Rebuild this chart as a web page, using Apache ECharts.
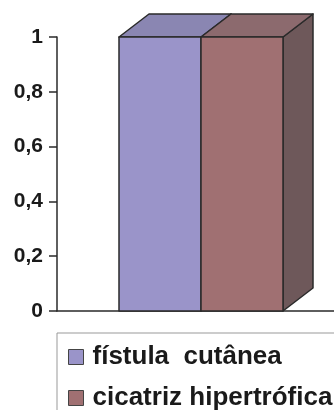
<!DOCTYPE html>
<html>
<head>
<meta charset="utf-8">
<script src="https://cdn.jsdelivr.net/npm/echarts@6/dist/echarts.min.js"></script>
<style>
  html, body { margin: 0; padding: 0; background: #ffffff; }
  #chart { width: 334px; height: 410px; }
</style>
</head>
<body>
<div id="chart"></div>
<script>
const categories = [''];
const seriesNames = ['fístula  cutânea', 'cicatriz hipertrófica'];
const fistulaValues = [1];
const cicatrizValues = [1];
const yTicks = { min: 0, max: 1, interval: 0.2 };

const FRONT = ['#9a94c9', '#a07072'];
const TOPC = ['#8a86b2', '#8c6a6e'];
const SIDE = ['#6f6a92', '#6e585a'];
const BAR_W = 82, DX = 30, DY = 23, EDGE = '#2a2a2a';

function renderBar(params, api) {
  const i = params.seriesIndex;
  const xv = api.value(0), v = api.value(1);
  const top = api.coord([xv, v]);
  const base = api.coord([xv, 0]);
  const left = top[0] + (i - 1) * BAR_W;
  const right = left + BAR_W;
  const ty = top[1], by = base[1];
  const lineStyle = { stroke: EDGE, lineWidth: 1.5, lineJoin: 'round' };
  return {
    type: 'group',
    children: [
      { type: 'polygon', shape: { points: [[right, ty], [right + DX, ty - DY], [right + DX, by - DY], [right, by]] },
        style: Object.assign({ fill: SIDE[i] }, lineStyle) },
      { type: 'polygon', shape: { points: [[left, ty], [right, ty], [right + DX, ty - DY], [left + DX, ty - DY]] },
        style: Object.assign({ fill: TOPC[i] }, lineStyle) },
      { type: 'rect', shape: { x: left, y: ty, width: BAR_W, height: by - ty },
        style: Object.assign({ fill: FRONT[i] }, lineStyle) }
    ]
  };
}

const chart = echarts.init(document.getElementById('chart'), null, { renderer: 'canvas' });
const makeData = vals => categories.map((c, k) => [k, vals[k]]);

chart.setOption({
  animation: false,
  color: FRONT,
  grid: { left: 57, width: 288, top: 37, height: 274, containLabel: false, outerBoundsMode: 'none' },
  xAxis: {
    type: 'category',
    data: categories,
    axisLine: { lineStyle: { color: '#2a2a2a', width: 1.5 } },
    axisTick: { show: false },
    axisLabel: { show: false },
    splitLine: { show: false }
  },
  yAxis: {
    type: 'value',
    min: yTicks.min, max: yTicks.max, interval: yTicks.interval,
    axisLine: { show: true, lineStyle: { color: '#2a2a2a', width: 1.5 } },
    axisTick: { show: true, length: 8, lineStyle: { color: '#2a2a2a', width: 1.5 } },
    axisLabel: {
      margin: 14,
      color: '#1a1a1a',
      fontFamily: 'Liberation Sans, Arial, sans-serif',
      fontWeight: 'bold',
      fontSize: 21,
      formatter: v => String(Math.round(v * 10) / 10).replace('.', ',')
    },
    splitLine: { show: false }
  },
  legend: {
    type: 'plain',
    orient: 'vertical',
    left: 57, top: 333,
    width: 320, height: 140,
    padding: [11, 40, 30, 11],
    itemGap: 15,
    itemWidth: 15, itemHeight: 15,
    icon: 'rect',
    itemStyle: { borderColor: '#444', borderWidth: 1 },
    borderColor: '#999', borderWidth: 1,
    textStyle: {
      color: '#1a1a1a',
      fontFamily: 'Liberation Sans, Arial, sans-serif',
      fontWeight: 'bold',
      fontSize: 26,
      lineHeight: 25,
      padding: [0, 0, 0, 4]
    },
    data: seriesNames
  },
  series: [
    { type: 'custom', name: seriesNames[0], renderItem: renderBar, data: makeData(fistulaValues),
      encode: { x: 0, y: 1 }, itemStyle: { color: FRONT[0] } },
    { type: 'custom', name: seriesNames[1], renderItem: renderBar, data: makeData(cicatrizValues),
      encode: { x: 0, y: 1 }, itemStyle: { color: FRONT[1] } }
  ]
});
</script>
</body>
</html>
